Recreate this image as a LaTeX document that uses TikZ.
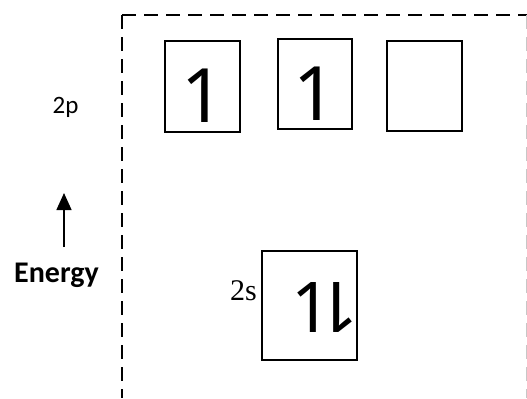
\documentclass[tikz,border=0pt]{standalone}
\usepackage{fontspec}
\usetikzlibrary{arrows.meta}
\newfontfamily\calfont{Carlito}
\newfontfamily\tnrfont{Liberation Serif}
\newfontfamily\spinfont{Noto Sans}
\begin{document}
\begin{tikzpicture}[x=1bp,y=-1bp,
  orbital/.style={draw=black,line width=1.6bp},
  frameline/.style={line width=1.6bp,dash pattern=on 14bp off 8bp},
  spinbig/.style={font=\fontsize{75bp}{75bp}\spinfont,inner sep=0pt,anchor=base},
  spinsmall/.style={font=\fontsize{70bp}{70bp}\spinfont,inner sep=0pt},
  lbl/.style={inner sep=0pt,anchor=base}]
\useasboundingbox (0,0) rectangle (527,398);
% frame
\coordinate (c) at (122,15);
\coordinate (tr) at (527,15);
\coordinate (bl) at (122,398);
\draw[frameline] (c) -- (tr);
\draw[frameline] (c) -- (bl);
\draw[line width=1bp,draw=black!22,dash pattern=on 14bp off 8bp] (526,15) -- (526,398);
% 2p orbitals
\draw[orbital] (165,41) rectangle (240,132);
\draw[orbital] (278,39) rectangle (352,129);
\draw[orbital] (387,41) rectangle (462,131);
\node[spinbig] (e1) at (203,122) {1};
\node[spinbig] (e2) at (315,120) {1};
% 2s orbital
\draw[orbital] (262,251) rectangle (357,360);
\node[spinsmall,anchor=base west] (e3) at (291,332) {1\hspace{-13bp}\rotatebox[origin=c]{180}{1}};
% labels
\node[lbl,font=\fontsize{25bp}{25bp}\calfont] (p) at (65.5,113) {2p};
\node[lbl,font=\fontsize{30bp}{30bp}\tnrfont] (s) at (243.5,300) {2s};
\node[lbl,font=\fontsize{30bp}{30bp}\calfont\bfseries] (en) at (56.5,282) {Energy};
% energy arrow
\coordinate (a0) at (64,247);
\coordinate (a1) at (64,193);
\draw[line width=1.5bp,-{Triangle[length=17bp,width=15bp]}] (a0) -- (a1);
\end{tikzpicture}
\end{document}
